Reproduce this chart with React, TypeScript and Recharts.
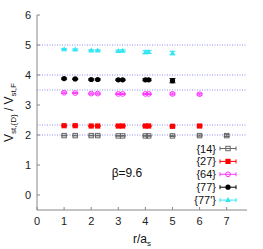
import React from "react";
import {
  ScatterChart,
  Scatter,
  XAxis,
  YAxis,
  ReferenceLine,
  ErrorBar,
} from "recharts";

// r/a_s values (on- and off-axis separations)
const rVals = [1, 1.41, 2, 2.24, 3, 3.16, 4, 4.12, 5, 6, 7];

const rep14 = [1.98, 1.98, 1.98, 1.98, 1.97, 1.97, 1.97, 1.97, 1.97, 1.98, 1.98];
const err14 = [0.01, 0.01, 0.01, 0.01, 0.01, 0.01, 0.01, 0.01, 0.02, 0.02, 0.03];
const rep27 = [2.31, 2.31, 2.3, 2.3, 2.3, 2.3, 2.3, 2.3, 2.29, 2.3];
const err27 = [0.01, 0.01, 0.01, 0.01, 0.01, 0.01, 0.01, 0.01, 0.02, 0.03];
const rep64 = [3.41, 3.4, 3.38, 3.38, 3.37, 3.37, 3.37, 3.37, 3.37, 3.36];
const err64 = [0.02, 0.02, 0.02, 0.02, 0.02, 0.02, 0.02, 0.02, 0.03, 0.03];
const rep77 = [3.88, 3.87, 3.85, 3.85, 3.84, 3.84, 3.84, 3.84, 3.81];
const err77 = [0.02, 0.02, 0.02, 0.02, 0.02, 0.02, 0.03, 0.03, 0.07];
const rep77p = [4.86, 4.85, 4.82, 4.82, 4.8, 4.81, 4.76, 4.77, 4.73];
const err77p = [0.02, 0.02, 0.02, 0.02, 0.03, 0.03, 0.05, 0.05, 0.06];

// Casimir-scaling reference values
const casimirLines = [2, 7 / 3, 3.5, 4, 5];

const xTicks = [0, 1, 2, 3, 4, 5, 6, 7];
const yTicks = [0, 1, 2, 3, 4, 5, 6];

const legendLabels = ["{14}", "{27}", "{64}", "{77}", "{77'}"];

const FONT = "'Liberation Sans Narrow', 'Liberation Sans', Arial, sans-serif";

const toPoints = (vals: number[], errs: number[]) =>
  vals.map((v, i) => ({ r: rVals[i], v, err: errs[i] }));

const COLORS = {
  g14: "#666666",
  r27: "#ff0000",
  m64: "#ff33ff",
  b77: "#000000",
  c77p: "#33e6f2",
};

const makeShape = (kind: string, color: string) => (props: any) => {
  const { cx, cy } = props;
  if (cx == null || cy == null) return <g />;
  switch (kind) {
    case "openSquare":
      return <rect x={cx - 2.2} y={cy - 2.2} width={4.4} height={4.4} fill="none" stroke={color} strokeWidth={1} />;
    case "square":
      return <rect x={cx - 2.6} y={cy - 2.6} width={5.2} height={5.2} fill={color} />;
    case "openCircle":
      return <circle cx={cx} cy={cy} r={2.4} fill="none" stroke={color} strokeWidth={1} />;
    case "circle":
      return <circle cx={cx} cy={cy} r={2.6} fill={color} />;
    default:
      return (
        <path
          d={`M${cx},${cy - 3} L${cx + 2.8},${cy + 2} L${cx - 2.8},${cy + 2} Z`}
          fill={color}
        />
      );
  }
};

const series = [
  { name: "{14}", data: toPoints(rep14, err14), kind: "openSquare", color: COLORS.g14 },
  { name: "{27}", data: toPoints(rep27, err27), kind: "square", color: COLORS.r27 },
  { name: "{64}", data: toPoints(rep64, err64), kind: "openCircle", color: COLORS.m64 },
  { name: "{77}", data: toPoints(rep77, err77), kind: "circle", color: COLORS.b77 },
  { name: "{77'}", data: toPoints(rep77p, err77p), kind: "triangle", color: COLORS.c77p },
];

const YLabel = (props: any) => {
  const vb = props.viewBox || {};
  const cy = vb.y + vb.height / 2;
  const x = 13;
  return (
    <text
      x={x}
      y={cy}
      transform={`rotate(-90, ${x}, ${cy})`}
      textAnchor="middle"
      fontFamily={FONT}
      fontSize={12}
      fill="#111"
    >
      <tspan>V</tspan>
      <tspan fontSize={8} dy={3}>st,{"{D}"}</tspan>
      <tspan dy={-3}> / V</tspan>
      <tspan fontSize={8} dy={3}>st,F</tspan>
    </text>
  );
};

const XLabel = (props: any) => {
  const vb = props.viewBox || {};
  const cx = vb.x + vb.width / 2;
  return (
    <text x={cx} y={243} textAnchor="middle" fontFamily={FONT} fontSize={12} fill="#111">
      <tspan>r/a</tspan>
      <tspan fontSize={8} dy={3}>s</tspan>
    </text>
  );
};

const LegendBox = () => (
  <svg
    width={263}
    height={249}
    style={{ position: "absolute", left: 0, top: 0, pointerEvents: "none" }}
  >
    <text x={127} y={177} textAnchor="middle" fontFamily={FONT} fontSize={12} fill="#111">
      β=9.6
    </text>
    {series.map((s, i) => {
      const y = 148.5 + i * 12.9;
      const shape = makeShape(s.kind, s.color)({ cx: 228, cy: y });
      return (
        <g key={s.name}>
          <text x={216} y={y + 4} textAnchor="end" fontFamily={FONT} fontSize={11} fill="#111">
            {legendLabels[i]}
          </text>
          <line x1={220} x2={236} y1={y} y2={y} stroke={s.color} strokeWidth={1} />
          <line x1={220} x2={220} y1={y - 2} y2={y + 2} stroke={s.color} strokeWidth={1} />
          <line x1={236} x2={236} y1={y - 2} y2={y + 2} stroke={s.color} strokeWidth={1} />
          {shape}
        </g>
      );
    })}
  </svg>
);

const App: React.FC = () => {
  const axisStroke = "#888888";
  const tickStyle = { fontFamily: FONT, fontSize: 11, fill: "#222" };
  return (
    <div style={{ position: "absolute", left: 0, top: 0, width: 263, height: 249, background: "#fff" }}>
      <ScatterChart width={263} height={249} margin={{ top: 15, right: 16, bottom: 0, left: 0 }}>
        <XAxis
          xAxisId="b"
          type="number"
          dataKey="r"
          domain={[0, 7.75]}
          ticks={xTicks}
          allowDataOverflow
          height={39}
          stroke={axisStroke}
          tickSize={-3}
          tickMargin={10}
          tick={tickStyle}
          label={<XLabel />}
        />
        <XAxis
          xAxisId="t"
          orientation="top"
          type="number"
          dataKey="r"
          domain={[0, 7.75]}
          ticks={xTicks}
          allowDataOverflow
          height={0}
          stroke={axisStroke}
          tickSize={-3}
          tick={() => <g />}
        />
        <YAxis
          yAxisId="l"
          type="number"
          dataKey="v"
          domain={[-0.5, 6]}
          ticks={yTicks}
          allowDataOverflow
          width={37}
          stroke={axisStroke}
          tickSize={-3}
          tickMargin={9}
          tick={tickStyle}
          label={<YLabel />}
        />
        <YAxis
          yAxisId="r"
          orientation="right"
          type="number"
          dataKey="v"
          domain={[-0.5, 6]}
          ticks={yTicks}
          allowDataOverflow
          width={0}
          stroke={axisStroke}
          tickSize={-3}
          tick={() => <g />}
        />
        {casimirLines.map((y) => (
          <ReferenceLine
            key={y}
            xAxisId="b"
            yAxisId="l"
            y={y}
            stroke="#8a8aee"
            strokeDasharray="1 1.5"
            strokeWidth={1}
          />
        ))}
        {series.map((s) => (
          <Scatter
            key={s.name}
            name={s.name}
            data={s.data}
            xAxisId="b"
            yAxisId="l"
            fill={s.color}
            shape={makeShape(s.kind, s.color)}
            isAnimationActive={false}
          >
            <ErrorBar dataKey="err" direction="y" width={3} stroke={s.color} strokeWidth={1} />
          </Scatter>
        ))}
      </ScatterChart>
      <LegendBox />
    </div>
  );
};

export default App;
